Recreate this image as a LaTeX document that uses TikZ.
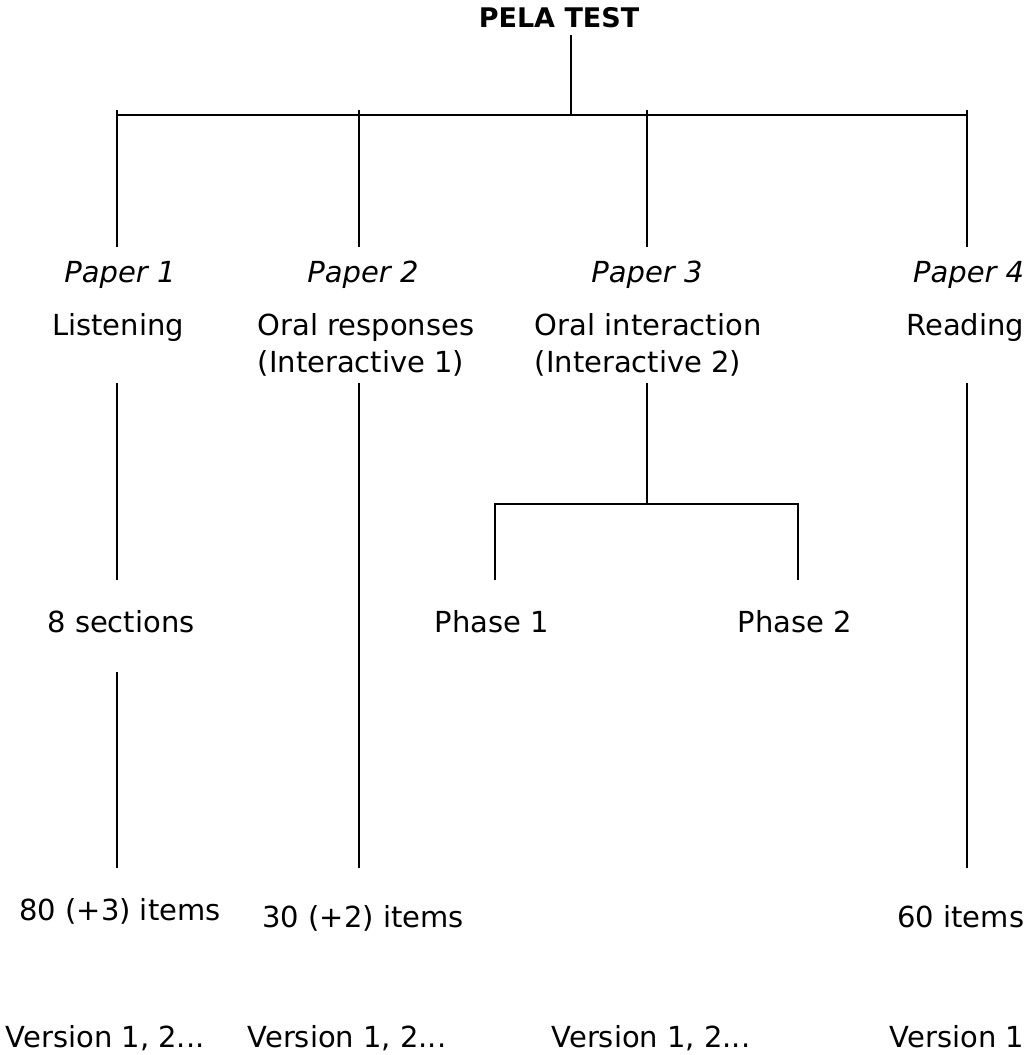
\documentclass[tikz,border=0pt]{standalone}
\usepackage{fontspec}
\setmainfont{DejaVu Sans}

\begin{document}
\begin{tikzpicture}[x=0.5pt,y=-0.5pt,line width=0.8pt,
	every node/.style={inner sep=0pt,font=\fontsize{14.5}{18.5}\selectfont},
	paper/.style={font=\fontsize{14.5}{18.5}\selectfont\itshape}]
	\useasboundingbox (0,0) rectangle (1029,1055);

	\node[anchor=base,font=\fontsize{13.5}{16}\selectfont\bfseries] (pela) at (559,27) {PELA TEST};

	\coordinate (top) at (571,35);
	\coordinate (hub) at (571,115);
	\foreach \x [count=\i] in {117,359,647,967} {
		\coordinate (u\i) at (\x,110);
		\coordinate (d\i) at (\x,247);
	}
	\draw (top) -- (hub);
	\draw (u1 |- hub) -- (u4 |- hub);
	\foreach \i in {1,...,4}
		\draw (u\i) -- (d\i);

	\node[paper,anchor=base] (paper1) at (120,282) {Paper 1};
	\node[paper,anchor=base] (paper2) at (363,282) {Paper 2};
	\node[paper,anchor=base] (paper3) at (647,282) {Paper 3};
	\node[paper,anchor=base east] (paper4) at (1025,282) {Paper 4};

	\node[anchor=base] (listening) at (118,335) {Listening};
	\node[anchor=base west] (oralresp) at (257,335) {Oral responses};
	\node[anchor=base west] (inter1) at (257,372) {(Interactive 1)};
	\node[anchor=base west] (oralint) at (534,335) {Oral interaction};
	\node[anchor=base west] (inter2) at (534,372) {(Interactive 2)};
	\node[anchor=base east] (reading) at (1025,335) {Reading};

	\coordinate (l1a) at (117,383);
	\coordinate (l1b) at (117,580);
	\coordinate (l1c) at (117,672);
	\coordinate (l1d) at (117,868);
	\coordinate (l2a) at (359,383);
	\coordinate (l2b) at (359,868);
	\coordinate (l3a) at (647,383);
	\coordinate (l3b) at (647,504);
	\coordinate (p1a) at (495,504);
	\coordinate (p1b) at (495,580);
	\coordinate (p2a) at (798,504);
	\coordinate (p2b) at (798,580);
	\coordinate (l4a) at (967,383);
	\coordinate (l4b) at (967,868);

	\draw (l1a) -- (l1b);
	\draw (l1c) -- (l1d);
	\draw (l2a) -- (l2b);
	\draw (l3a) -- (l3b);
	\draw (p1b) -- (p1a) -- (p2a) -- (p2b);
	\draw (l4a) -- (l4b);

	\node[anchor=base] (sections) at (121,632) {8 sections};
	\node[anchor=base] (phase1) at (492,632) {Phase 1};
	\node[anchor=base] (phase2) at (795,632) {Phase 2};

	\node[anchor=base] (items1) at (120,920) {80 (+3) items};
	\node[anchor=base] (items2) at (363,927) {30 (+2) items};
	\node[anchor=base east] (items4) at (1025,927) {60 items};

	\node[anchor=base west] (ver1) at (5,1047) {Version 1, 2...};
	\node[anchor=base] (ver2) at (347,1047) {Version 1, 2...};
	\node[anchor=base] (ver3) at (651,1047) {Version 1, 2...};
	\node[anchor=base east] (ver4) at (1025,1047) {Version 1};
\end{tikzpicture}
\end{document}
